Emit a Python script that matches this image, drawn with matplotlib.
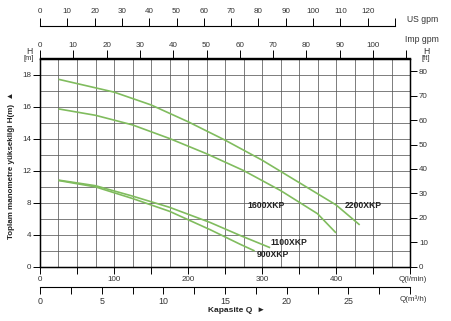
import matplotlib
matplotlib.use("Agg")
import matplotlib.pyplot as plt
from matplotlib.ticker import MultipleLocator, FixedLocator, FuncFormatter

plt.rcParams['font.family'] = ['Liberation Sans', 'DejaVu Sans']

# ---- data (Q in l/min, H in m) ----
q_2200 = [25, 100, 150, 200, 250, 300, 350, 400, 432]
h_2200 = [23.4, 21.8, 20.2, 18.1, 15.8, 13.3, 10.5, 7.7, 5.2]
q_1600 = [25, 75, 125, 175, 225, 275, 325, 375, 400]
h_1600 = [19.7, 18.9, 17.7, 16.0, 14.1, 12.0, 9.5, 6.6, 4.2]
q_1100 = [25, 75, 125, 175, 230, 270, 311]
h_1100 = [10.8, 10.1, 8.8, 7.4, 5.5, 3.9, 2.35]
q_900 = [25, 75, 125, 175, 230, 270, 290]
h_900 = [10.75, 9.95, 8.5, 6.9, 4.6, 2.8, 1.95]

series = [
    ("2200XKP", q_2200, h_2200, (412, 7.6)),
    ("1600XKP", q_1600, h_1600, (280, 7.6)),
    ("1100XKP", q_1100, h_1100, (311, 3.0)),
    ("900XKP", q_900, h_900, (293, 1.45)),
]

left_tick_pos = [0, 4, 8, 12, 16, 20, 24]
left_tick_labels = ['0', '4', '8', '12', '14', '16', '18']
ft_ticks = [0, 10, 20, 30, 40, 50, 60, 70, 80]
lmin_label_ticks = [0, 100, 200, 300, 400]
m3h_ticks = [0, 5, 10, 15, 20, 25]
imp_ticks = list(range(0, 111, 10))
us_ticks = list(range(0, 131, 10))

W, H = 452, 321
fig = plt.figure(figsize=(W / 100, H / 100), dpi=100)

x0, x1 = 40, 410
yb, yt = 266.5, 58.5
ax = fig.add_axes([x0 / W, 1 - yb / H, (x1 - x0) / W, (yb - yt) / H])
ax.set_xlim(0, 500)
ax.set_ylim(0, 26)

GRID = '#5a5a5a'
TXT = '#333333'
GREEN = '#80bc5e'

# grid
ax.xaxis.set_major_locator(MultipleLocator(50))
ax.xaxis.set_minor_locator(MultipleLocator(25))
ax.yaxis.set_major_locator(FixedLocator(left_tick_pos))
ax.yaxis.set_minor_locator(MultipleLocator(2))
ax.grid(which='both', color=GRID, linewidth=0.55)
ax.set_axisbelow(True)

ax.xaxis.set_major_formatter(FuncFormatter(
    lambda v, p: f"{int(v)}" if int(round(v)) in lmin_label_ticks else ""))
ax.set_yticklabels(left_tick_labels)
ax.tick_params(which='minor', length=0)
ax.tick_params(which='major', length=5, width=0.7, direction='out',
               labelsize=5.8, labelcolor=TXT, pad=1.5)
ax.tick_params(axis='x', which='major', pad=2)
for s in ax.spines.values():
    s.set_linewidth(1.0)

for name, q, h, (lx, ly) in series:
    ax.plot(q, h, color=GREEN, linewidth=1.2, solid_capstyle='butt',
            solid_joinstyle='round')
    ax.text(lx, ly, name, fontsize=6.2, fontweight='bold', color='#222222',
            ha='left', va='center')

# right axis in ft
axr = ax.twinx()
axr.set_ylim(0, 26 * 3.28084)
axr.set_yticks(ft_ticks)
axr.tick_params(length=5, width=0.7, labelsize=5.8, labelcolor=TXT, pad=1.5)

# Imp gpm at top of box
IMP = 4.5
sec_imp = ax.secondary_xaxis('top', functions=(lambda x: x / IMP, lambda x: x * IMP))
sec_imp.set_xticks(imp_ticks)
sec_imp.xaxis.set_major_formatter(FuncFormatter(lambda v, p: f"{int(round(v))}" if v < 105 else ""))
sec_imp.tick_params(length=6, width=0.7, labelsize=5.8, labelcolor=TXT, pad=1.0)
sec_imp.spines['top'].set_linewidth(1.0)

# US gpm separate line above
US = 3.69
us_loc = (yb - 26) / (yb - yt)
sec_us = ax.secondary_xaxis(us_loc, functions=(lambda x: x / US, lambda x: x * US))
sec_us.set_xticks(us_ticks)
sec_us.xaxis.set_major_formatter(FuncFormatter(lambda v, p: f"{int(round(v))}" if v < 125 else ""))
sec_us.tick_params(length=6, width=0.7, labelsize=5.8, labelcolor=TXT, pad=2.0)
sec_us.spines['top'].set_linewidth(0.8)
sec_us.spines['top'].set_bounds(0, 130)

# m3/h line below
M3 = 1000 / 60
m3_loc = (yb - 287) / (yb - yt)
sec_m3 = ax.secondary_xaxis(m3_loc, functions=(lambda x: x / M3, lambda x: x * M3))
sec_m3.xaxis.set_major_locator(MultipleLocator(2.5))
sec_m3.xaxis.set_major_formatter(FuncFormatter(
    lambda v, p: f"{int(round(v))}" if (abs(v - round(v)) < 1e-6 and int(round(v)) in m3h_ticks) else ""))
sec_m3.tick_params(length=5, width=0.7, labelsize=6.4, labelcolor=TXT, pad=2.0)
sec_m3.spines['bottom'].set_linewidth(0.8)


def ftext(px, py, s, **kw):
    fig.text(px / W, 1 - py / H, s, **kw)


ftext(407, 19, "US gpm", fontsize=6.2, color=TXT, ha='left', va='center')
ftext(405, 40, "Imp gpm", fontsize=6.2, color=TXT, ha='left', va='center')
ftext(29, 52, "H", fontsize=6.2, color=TXT, ha='center', va='center')
ftext(29, 59, "[m]", fontsize=5.5, color=TXT, ha='center', va='center')
ftext(426, 52, "H", fontsize=6.2, color=TXT, ha='center', va='center')
ftext(426, 59, "[ft]", fontsize=5.5, color=TXT, ha='center', va='center')
ftext(413, 279.5, "Q(l/min)", fontsize=5.8, color=TXT, ha='center', va='center')
ftext(413, 299.5, "Q(m³/h)", fontsize=5.8, color=TXT, ha='center', va='center')
ftext(237, 310.5, "Kapasite Q  \u25ba", fontsize=6.0, fontweight='bold',
      color='#222222', ha='center', va='center')
ftext(12, 165, "Toplam manometre yüksekliği H(m)  \u25b2", fontsize=5.8,
      fontweight='bold', color='#222222', ha='center', va='center', rotation=90)

fig.savefig("out.png", dpi=100)
